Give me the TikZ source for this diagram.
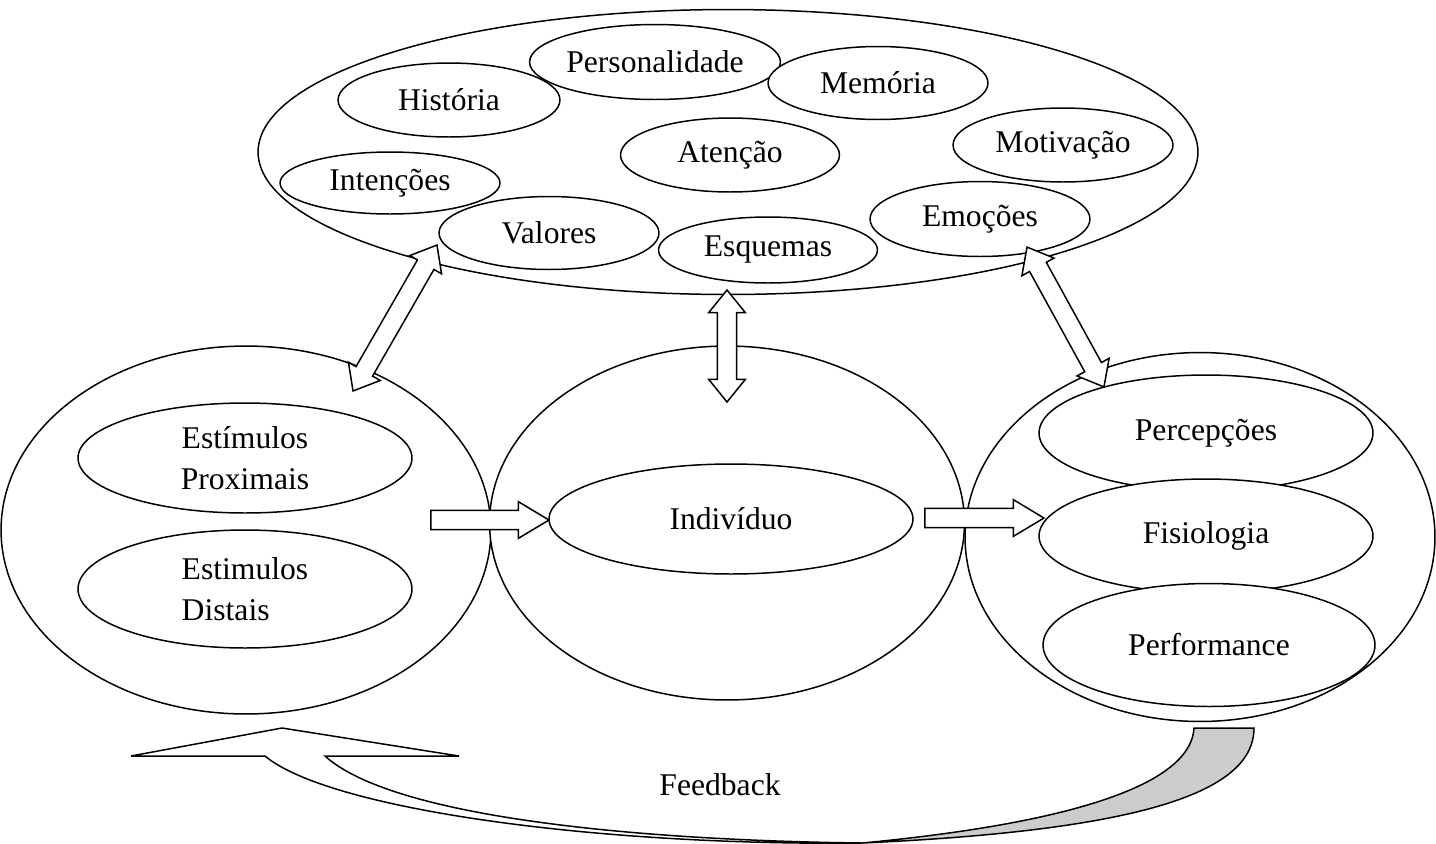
\documentclass[tikz,border=0pt]{standalone}
\usepackage{fontspec}
\setmainfont{Liberation Serif}
\usetikzlibrary{shapes.geometric,shapes.arrows,calc}

% block arrow laid between two named coordinates
\newcommand{\fatlink}[3]{%
  \path let \p1=($(#3)-(#2)$), \n1={atan2(\y1,\x1)}, \n2={veclen(\x1,\y1)} in
    node[#1, minimum height=\n2, rotate=\n1] at ($(#2)!0.5!(#3)$) {};}

\begin{document}
\begin{tikzpicture}[
    x=0.02cm, y=-0.02cm,
    group/.style={ellipse, draw, line width=0.85pt, fill=white, inner sep=0pt},
    bubble/.style={ellipse, draw, line width=0.85pt, fill=white, inner sep=0pt, align=center, font=\fontsize{18}{23}\selectfont, minimum width=4.4cm, minimum height=1.48cm},
    fatarrow/.style={single arrow, draw, line width=0.85pt, fill=white, inner sep=5pt, single arrow head extend=5pt, single arrow tip angle=62},
    dblarrow/.style={double arrow, draw, line width=0.85pt, fill=white, inner sep=5pt, double arrow head extend=5pt, double arrow tip angle=78}
]
    \useasboundingbox (0,0) rectangle (1436,843);

    % Top cluster
    \node[group, minimum width=18.8cm, minimum height=5.7cm] (mind) at (728,152) {};
    \node[bubble, minimum width=4.44cm] (hist) at (449,100) {História};
    \node[bubble, minimum width=4.42cm, minimum height=1.5cm] (pers) at (655,62) {Personalidade};
    \node[bubble, minimum height=1.46cm] (mem) at (878,83) {Memória};
    \node[bubble, minimum width=4.38cm] (aten) at (730,155) {Atenção};
    \node[bubble] (motiv) at (1063,145) {Motivação};
    \node[bubble, minimum height=1.24cm] (inten) at (390,183) {Intenções};
    \node[bubble, minimum height=1.46cm] (valor) at (549,233) {Valores};
    \node[bubble, minimum width=4.38cm, minimum height=1.32cm] (esq) at (768,250) {Esquemas};
    \node[bubble, minimum height=1.5cm] (emoc) at (980,219) {Emoções};

    % Stimuli
    \node[group, minimum width=9.8cm, minimum height=7.36cm] (stim) at (246,530) {};
    \node[bubble, minimum width=6.68cm, minimum height=2.2cm] (prox) at (245,458) {Estímulos\\Proximais};
    \node[bubble, minimum width=6.68cm, minimum height=2.36cm, align=left] (dist) at (245,589) {Estimulos\\Distais};

    % Individual
    \node[group, minimum width=9.5cm, minimum height=7.08cm] (self) at (727,523) {};
    \node[bubble, minimum width=7.28cm, minimum height=2.2cm] (indiv) at (731,519) {Indivíduo};

    % Responses
    \node[group, minimum width=9.4cm, minimum height=7.38cm] (resp) at (1200,537) {};
    \node[bubble, minimum width=6.68cm, minimum height=2.32cm] (perc) at (1206,433) {Percepções};
    \node[bubble, minimum width=6.68cm, minimum height=2.28cm] (fisio) at (1206,536) {Fisiologia};
    \node[bubble, minimum width=6.64cm, minimum height=2.46cm] (perf) at (1209,645) {Performance};

    % Arrow ends
    \coordinate (stim_top) at (353,391);
    \coordinate (valor_low) at (437,245);
    \coordinate (self_top) at (727,402);
    \coordinate (mind_low) at (727,290);
    \coordinate (resp_top) at (1104,387);
    \coordinate (emoc_low) at (1027,247);
    \coordinate (stim_out) at (423,520);
    \coordinate (indiv_in) at (541,520);
    \coordinate (self_out) at (917,518);
    \coordinate (resp_in) at (1036,518);

    % Arrows
    \fatlink{dblarrow}{stim_top}{valor_low}
    \fatlink{dblarrow}{self_top}{mind_low}
    \fatlink{dblarrow}{resp_top}{emoc_low}
    \fatlink{fatarrow}{stim_out}{indiv_in}
    \fatlink{fatarrow}{self_out}{resp_in}

    % Feedback loop
    \draw[line width=0.85pt, fill=gray!40] (1194,728) -- (1254,728)
        .. controls (1254,790) and (1150,830) .. (862,843)
        .. controls (1000,830) and (1190,800) .. (1194,728) -- cycle;
    \draw[line width=0.85pt, fill=white] (131,756) -- (282,728) -- (459,756) -- (325,756)
        .. controls (390,815) and (620,840) .. (862,843)
        .. controls (600,846) and (330,810) .. (265,756) -- cycle;
    \node[font=\fontsize{18}{23}\selectfont] (fb) at (720,785) {Feedback};

\end{tikzpicture}
\end{document}
